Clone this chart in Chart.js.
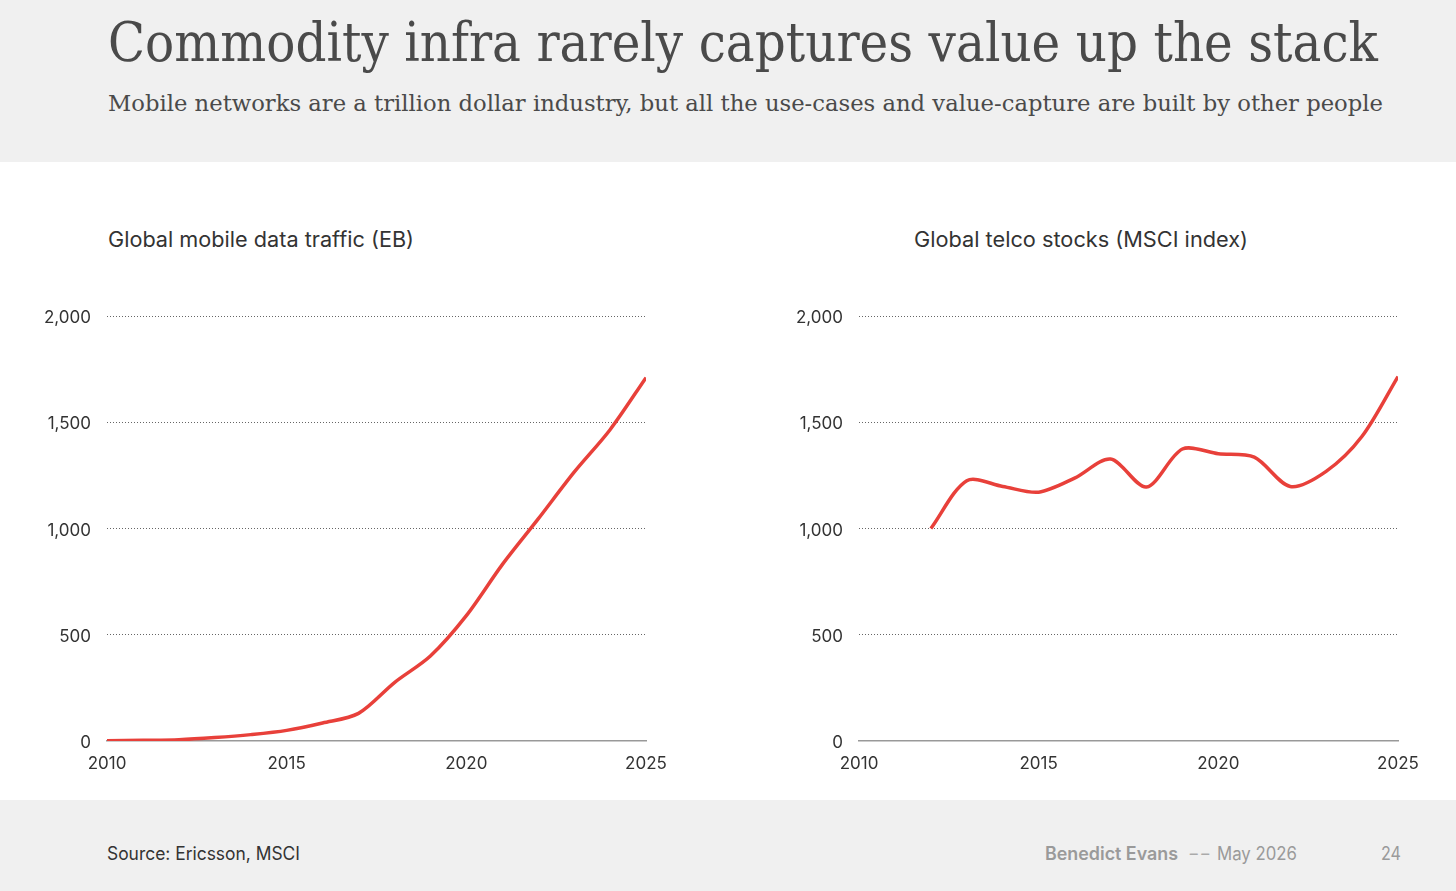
<!DOCTYPE html>
<html>
<head>
<meta charset="utf-8">
<script src="https://cdn.jsdelivr.net/npm/chart.js@4"></script>
<style>
  html, body { margin: 0; padding: 0; }
  body { width: 1456px; height: 891px; position: relative; background: #fff; overflow: hidden; font-family: Inter, sans-serif; }
  .band { position: absolute; left: 0; width: 1456px; background: #f0f0f0; }
  .txt { position: absolute; white-space: nowrap; line-height: 1; transform-origin: left top; display: inline-block; }
  .serif { font-family: "DejaVu Serif", serif; color: #4a4a4a; }
  .canvasBox { position: absolute; width: 656px; height: 501px; }
</style>
</head>
<body>
<div class="band" style="top:0;height:162px;"></div>
<div class="band" style="top:800px;height:91px;"></div>

<div class="txt serif" data-w="1270" style="left:108px;top:16px;font-size:54px;">Commodity infra rarely captures value up the stack</div>
<div class="txt serif" data-w="1275" style="left:108px;top:92px;font-size:23px;">Mobile networks are a trillion dollar industry, but all the use-cases and value-capture are built by other people</div>

<div class="txt" data-w="306" style="left:108px;top:229px;font-size:21px;color:#333;">Global mobile data traffic (EB)</div>
<div class="txt" data-w="334" style="left:914px;top:229px;font-size:21px;color:#333;">Global telco stocks (MSCI index)</div>

<div class="canvasBox" style="left:30px;top:280px;"><canvas id="trafficChart"></canvas></div>
<div class="canvasBox" style="left:782px;top:280px;"><canvas id="telcoChart"></canvas></div>

<div class="txt" data-w="193" style="left:107px;top:845px;font-size:18px;color:#333;">Source: Ericsson, MSCI</div>
<div class="txt" data-w="133" style="left:1045px;top:845px;font-size:18px;color:#9a9a9a;font-weight:600;">Benedict Evans</div>
<div class="txt" data-w="23" style="left:1188px;top:845px;font-size:18px;color:#aaa;">--</div>
<div class="txt" data-w="80" style="left:1217px;top:845px;font-size:18px;color:#9a9a9a;">May 2026</div>
<div class="txt" data-w="20" style="left:1381px;top:845px;font-size:18px;color:#9a9a9a;">24</div>

<script>
// Data
const trafficYears = [2010, 2011, 2012, 2013, 2014, 2015, 2016, 2017, 2018, 2019, 2020, 2021, 2022, 2023, 2024, 2025];
const trafficEB = [1, 3, 6, 16, 30, 50, 85, 130, 275, 400, 590, 830, 1045, 1265, 1465, 1710];

const telcoYears = [2012, 2013, 2014, 2015, 2016, 2017, 2018, 2019, 2020, 2021, 2022, 2023, 2024, 2025];
const telcoIndex = [1000, 1225, 1198, 1171, 1237, 1327, 1195, 1374, 1352, 1336, 1198, 1269, 1434, 1715];

const yTicks = [0, 500, 1000, 1500, 2000];
const xTicks = [2010, 2015, 2020, 2025];

const lineColor = '#e8403a';

// Fit header/footer text to the reference widths
document.querySelectorAll('.txt[data-w]').forEach(el => {
    const w = el.getBoundingClientRect().width;
    const target = parseFloat(el.dataset.w);
    el.style.transform = 'scaleX(' + (target / w) + ')';
});

function makeChart(id, xs, ys) {
    const ctx = document.getElementById(id).getContext('2d');
    return new Chart(ctx, {
        type: 'line',
        data: {
            datasets: [{
                data: xs.map((x, i) => ({ x: x, y: ys[i] })),
                borderColor: lineColor,
                borderWidth: 3.5,
                pointRadius: 0,
                tension: 0.3,
                fill: false
            }]
        },
        options: {
            responsive: true,
            maintainAspectRatio: false,
            animation: false,
            layout: { padding: { top: 36, right: 40, left: 0, bottom: 0 } },
            plugins: {
                legend: { display: false },
                tooltip: { enabled: false }
            },
            scales: {
                x: {
                    type: 'linear',
                    min: 2010,
                    max: 2025,
                    afterBuildTicks: scale => { scale.ticks = xTicks.map(v => ({ value: v })); },
                    afterFit: scale => { scale.height = 40; },
                    grid: { display: false, drawTicks: false },
                    border: { display: true, color: '#999', width: 1.5 },
                    ticks: {
                        color: '#333',
                        padding: 13,
                        maxRotation: 0,
                        font: { family: 'Inter', size: 17 },
                        callback: v => String(v)
                    }
                },
                y: {
                    min: 0,
                    max: 2000,
                    afterBuildTicks: scale => { scale.ticks = yTicks.map(v => ({ value: v })); },
                    afterFit: scale => { scale.width = 77; },
                    grid: {
                        drawTicks: false,
                        color: ctx => ctx.tick && ctx.tick.value === 0 ? 'rgba(0,0,0,0)' : '#666',
                        lineWidth: 1
                    },
                    border: { display: false, dash: [1, 2] },
                    ticks: {
                        color: '#333',
                        padding: 16,
                        labelOffset: 2,
                        font: { family: 'Inter', size: 17 },
                        callback: v => v.toLocaleString('en-US')
                    }
                }
            }
        }
    });
}

makeChart('trafficChart', trafficYears, trafficEB);
makeChart('telcoChart', telcoYears, telcoIndex);
</script>
</body>
</html>
